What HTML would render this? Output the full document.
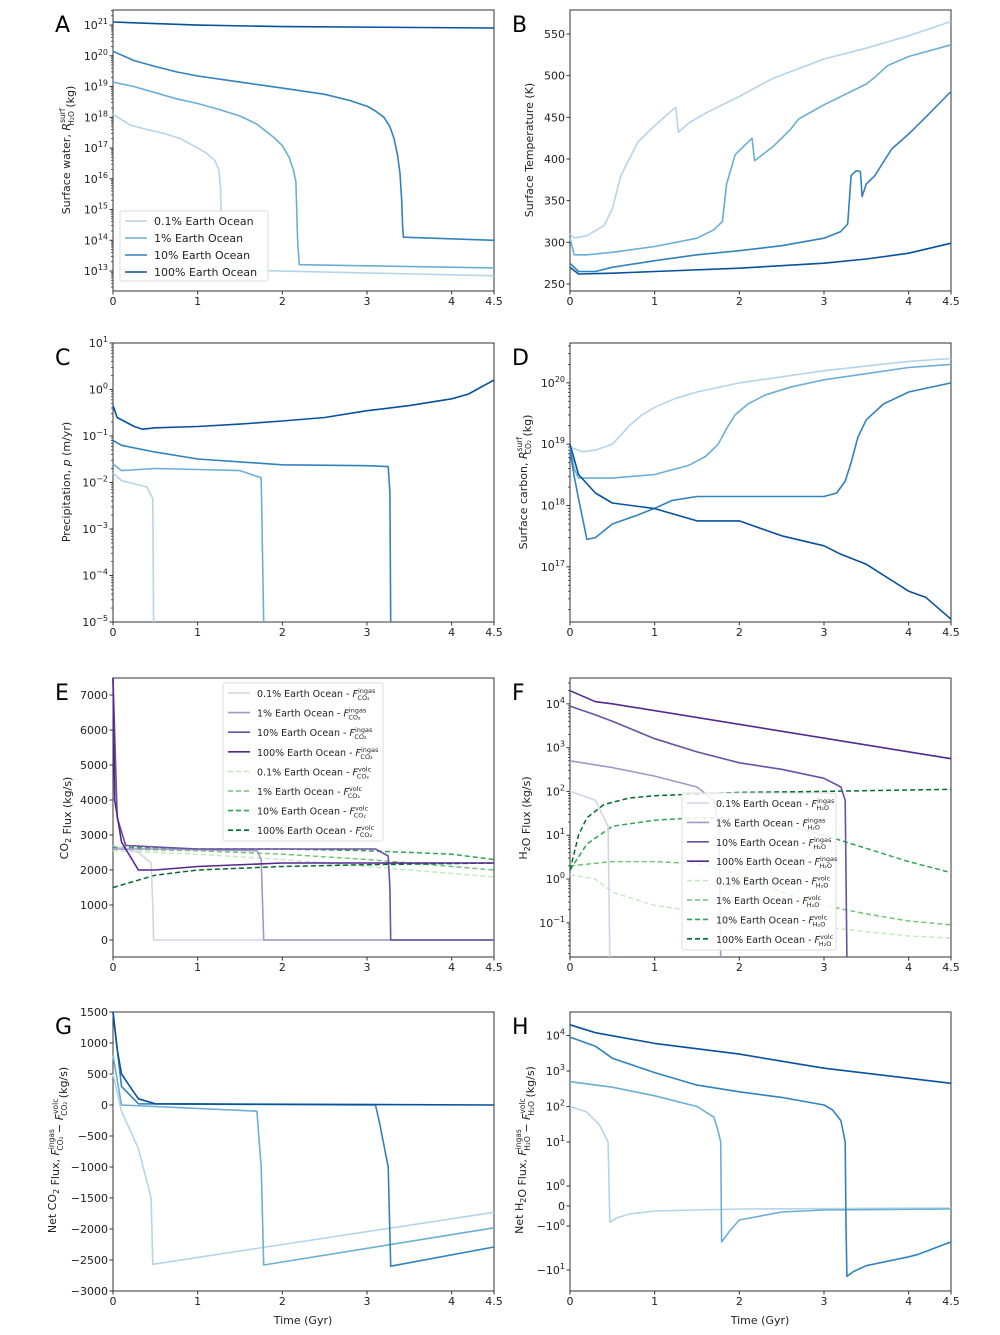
<!DOCTYPE html>
<html><head><meta charset="utf-8"><style>
body{margin:0;background:#fff}
svg{display:block;font-family:"DejaVu Sans","Liberation Sans",sans-serif}
</style></head><body>
<svg id="fig" width="1000" height="1335" viewBox="0 0 1000 1335" xmlns="http://www.w3.org/2000/svg"></svg>
<script>
// ---------- Data (time in Gyr) ----------
const xTicks = [0,1,2,3,4,4.5];
const oceanNames = ["0.1% Earth Ocean","1% Earth Ocean","10% Earth Ocean","100% Earth Ocean"];
// Panel A: surface water (kg)
const A_01 = [[0,1.26e18],[0.2,5.6e17],[0.4,4e17],[0.6,3e17],[0.8,2e17],[1.0,1e17],[1.1,7e16],[1.2,4e16],[1.25,2e16],[1.27,5e15],[1.28,5e14],[1.29,2e13],[1.3,1.1e13],[4.5,7e12]];
const A_1 = [[0,1.4e19],[0.25,1e19],[0.5,6.3e18],[0.75,4e18],[1,2.8e18],[1.25,1.8e18],[1.5,1.1e18],[1.7,6e17],[1.8,3.6e17],[1.9,2.2e17],[2.0,1.2e17],[2.08,5e16],[2.13,2e16],[2.16,8e15],[2.17,1e15],[2.18,1e14],[2.2,1.6e13],[4.5,1.26e13]];
const A_10 = [[0,1.4e20],[0.25,7e19],[0.5,4.5e19],[0.75,3e19],[1,2.2e19],[1.5,1.4e19],[2,8.9e18],[2.5,5.6e18],[2.8,3.5e18],[3.0,2.3e18],[3.1,1.6e18],[3.2,1e18],[3.27,5e17],[3.32,2e17],[3.36,6e16],[3.39,1.5e16],[3.41,2e15],[3.42,3e14],[3.43,1.26e14],[4.5,1e14]];
const A_100 = [[0,1.26e21],[0.5,1.12e21],[1,1e21],[2,8.9e20],[4.5,8e20]];
// Panel B: surface temperature (K)
const B_01 = [[0,310],[0.05,305],[0.2,308],[0.4,320],[0.5,340],[0.6,380],[0.8,420],[1.0,440],[1.2,458],[1.25,462],[1.28,432],[1.4,443],[1.6,455],[2,475],[2.4,497],[3,520],[3.5,533],[4,548],[4.5,565]];
const B_1 = [[0,305],[0.05,285],[0.2,285],[0.5,288],[1,295],[1.5,305],[1.7,315],[1.8,325],[1.85,370],[1.95,405],[2.1,420],[2.15,425],[2.18,398],[2.4,415],[2.6,435],[2.7,448],[3,465],[3.5,490],[3.6,498],[3.75,512],[4,523],[4.5,537]];
const B_10 = [[0,275],[0.1,265],[0.3,265],[0.5,270],[1,278],[1.5,285],[2,290],[2.5,296],[3,305],[3.2,313],[3.28,322],[3.32,380],[3.38,386],[3.43,385],[3.45,355],[3.5,370],[3.6,380],[3.8,412],[4,430],[4.2,450],[4.5,481]];
const B_100 = [[0,270],[0.1,262],[0.5,263],[1,265],[2,269],[3,275],[3.5,280],[4,287],[4.5,299]];
// Panel C: precipitation (m/yr)
const C_01 = [[0,0.016],[0.1,0.011],[0.4,0.008],[0.47,0.0045],[0.48,1e-5]];
const C_1 = [[0,0.025],[0.1,0.018],[0.5,0.02],[1,0.019],[1.5,0.018],[1.75,0.0126],[1.78,1e-5]];
const C_10 = [[0,0.08],[0.1,0.063],[0.5,0.045],[1,0.032],[2,0.024],[3,0.023],[3.25,0.022],[3.27,0.006],[3.28,1e-5]];
const C_100 = [[0,0.45],[0.05,0.25],[0.15,0.2],[0.25,0.16],[0.35,0.14],[0.5,0.15],[1,0.16],[1.5,0.18],[2,0.21],[2.5,0.25],[3,0.35],[3.5,0.45],[4,0.63],[4.2,0.8],[4.5,1.6]];
// Panel D: surface carbon (kg)
const D_01 = [[0,8.9e18],[0.15,7.5e18],[0.3,8e18],[0.5,1e19],[0.6,1.4e19],[0.7,2e19],[0.85,3e19],[1,4e19],[1.25,5.6e19],[1.5,7.1e19],[2,1e20],[3,1.58e20],[4,2.24e20],[4.5,2.5e20]];
const D_1 = [[0,8.9e18],[0.05,4e18],[0.1,2.8e18],[0.5,2.8e18],[1,3.2e18],[1.4,4.5e18],[1.6,6.3e18],[1.75,1e19],[1.85,1.8e19],[1.95,3e19],[2.1,4.5e19],[2.3,6.3e19],[2.6,8.5e19],[3,1.12e20],[4,1.78e20],[4.5,2e20]];
const D_10 = [[0,7.9e18],[0.05,3e18],[0.1,1.3e18],[0.2,2.8e17],[0.3,3e17],[0.5,5e17],[0.8,7e17],[1,9e17],[1.2,1.2e18],[1.5,1.4e18],[3,1.4e18],[3.15,1.6e18],[3.25,2.5e18],[3.32,5e18],[3.4,1.3e19],[3.5,2.5e19],[3.7,4.5e19],[4,7.1e19],[4.5,1e20]];
const D_100 = [[0,1e19],[0.1,3.2e18],[0.3,1.6e18],[0.5,1.1e18],[1,8.9e17],[1.5,5.6e17],[2,5.6e17],[2.5,3.2e17],[3,2.2e17],[3.2,1.6e17],[3.5,1.1e17],[4,4e16],[4.2,3.2e16],[4.5,1.4e16]];
// Panel E: CO2 flux (kg/s)
const E_in_01 = [[0,2700],[0.3,2500],[0.45,2200],[0.47,1000],[0.48,0],[4.5,0]];
const E_in_1 = [[0,2600],[0.5,2600],[1.7,2550],[1.75,2300],[1.78,0],[4.5,0]];
const E_in_10 = [[0,7500],[0.05,3500],[0.15,2700],[1,2600],[2,2600],[3.1,2600],[3.25,2400],[3.27,1500],[3.28,0],[4.5,0]];
const E_in_100 = [[0,7500],[0.02,4000],[0.1,2800],[0.3,2000],[0.5,2000],[1,2100],[2,2200],[4.5,2200]];
const E_vo_01 = [[0,2550],[1,2450],[2,2300],[3,2100],[4,1900],[4.5,1800]];
const E_vo_1 = [[0,2600],[1,2550],[2,2450],[3,2300],[4,2100],[4.5,2000]];
const E_vo_10 = [[0,2650],[1,2600],[2,2600],[3,2550],[4,2450],[4.5,2300]];
const E_vo_100 = [[0,1500],[0.5,1850],[1,2000],[2,2100],[3,2150],[4.5,2200]];
// Panel F: H2O flux (kg/s)
const F_in_01 = [[0,100],[0.3,63],[0.45,16],[0.47,0.016]];
const F_in_1 = [[0,500],[0.5,350],[1,224],[1.5,126],[1.7,63],[1.76,12.6],[1.78,0.016]];
const F_in_10 = [[0,8900],[0.3,5600],[0.5,4000],[1,1600],[1.5,800],[2,450],[2.5,320],[3,200],[3.2,126],[3.25,63],[3.27,0.016]];
const F_in_100 = [[0,20000],[0.3,11200],[0.5,10000],[4.5,560]];
const F_vo_01 = [[0,1.26],[0.3,1],[0.5,0.5],[1,0.25],[1.5,0.18],[2,0.126],[3,0.08],[4,0.05],[4.5,0.045]];
const F_vo_1 = [[0,2],[0.5,2.5],[1,2.5],[1.5,2.24],[2,1.26],[2.5,0.5],[3,0.25],[3.5,0.16],[4,0.11],[4.5,0.09]];
const F_vo_10 = [[0,1.6],[0.2,6.3],[0.5,16],[1,22],[1.5,25],[2,24],[2.5,18],[3,10],[3.5,5],[4,2.5],[4.5,1.4]];
const F_vo_100 = [[0,1.6],[0.1,10],[0.2,25],[0.4,50],[0.7,71],[1,80],[2,95],[3,100],[4.5,112]];
// Panel G: net CO2 flux (kg/s)
const G_01 = [[0,500],[0.1,-100],[0.3,-700],[0.45,-1500],[0.47,-2570],[4.5,-1730]];
const G_1 = [[0,800],[0.1,0],[1.7,-100],[1.75,-1000],[1.78,-2580],[4.5,-1980]];
const G_10 = [[0,1500],[0.1,300],[0.3,20],[3.1,0],[3.15,-300],[3.25,-1000],[3.28,-2600],[4.5,-2290]];
const G_100 = [[0,1500],[0.05,900],[0.1,500],[0.2,300],[0.3,100],[0.5,20],[4.5,0]];
// Panel H: net H2O flux (kg/s), symlog
const H_01 = [[0,100],[0.2,70],[0.35,30],[0.45,10],[0.47,-0.8],[0.55,-0.6],[0.7,-0.4],[1,-0.25],[2,-0.15],[4.5,-0.1]];
const H_1 = [[0,500],[0.5,350],[1,200],[1.5,100],[1.7,50],[1.75,20],[1.78,10],[1.79,-2.3],[1.9,-1.2],[2,-0.7],[2.5,-0.3],[3,-0.2],[4.5,-0.15]];
const H_10 = [[0,9000],[0.3,5000],[0.5,2300],[1,900],[1.5,400],[2,260],[2.5,180],[3,110],[3.1,80],[3.2,40],[3.25,10],[3.26,-1],[3.27,-15],[3.35,-11],[3.5,-8],[4,-5],[4.1,-4.5],[4.5,-2.3]];
const H_100 = [[0,20000],[0.3,12000],[1,6000],[2,3000],[3,1200],[4.5,450]];

const BLUES = ["#b5d4ea","#6baed6","#3182bd","#08519c"];
const PURPLES = ["#d4d3e8","#9e9ac8","#6a51a3","#54278f"];
const GREENS = ["#c7e9c0","#74c476","#31a354","#006d2c"];

const NS="http://www.w3.org/2000/svg";
const svg=document.getElementById('fig');
function el(tag,attrs,parent){const e=document.createElementNS(NS,tag);for(const k in attrs)e.setAttribute(k,attrs[k]);(parent||svg).appendChild(e);return e;}

function logScale(lo,hi,top,bot){return v=>bot-(Math.log10(Math.max(v,1e-300))-lo)/(hi-lo)*(bot-top);}
function linScale(lo,hi,top,bot){return v=>bot-(v-lo)/(hi-lo)*(bot-top);}
function symScale(zeroY){
  const f=a=>a<=1?a*20:(a<=10?20+44*Math.log10(a):64+35.5*Math.log10(a/10));
  return v=>zeroY-Math.sign(v)*f(Math.abs(v));}

function makePanel(id,box,ysc,yticks,minor){
  const g=el('g',{});  
  const [x0,y0,x1,y1]=box;
  const xs=t=>x0+t/4.5*(x1-x0);
  el('rect',{x:x0,y:y0,width:x1-x0,height:y1-y0,fill:'none',stroke:'#333','stroke-width':1},g);
  xTicks.forEach(t=>{const x=xs(t);
    el('line',{x1:x,x2:x,y1:y1,y2:y1+3.5,stroke:'#333'},g);
    const tx=el('text',{x:x,y:y1+14,'font-size':11,'text-anchor':'middle',fill:'#222'},g);tx.textContent=t;
    });
  (minor||[]).forEach(v=>{const y=ysc(v);if(y>y0&&y<y1)el('line',{x1:x0-2,x2:x0,y1:y,y2:y,stroke:'#333','stroke-width':0.8},g);});
  yticks.forEach(([v,lab,sup])=>{const y=ysc(v);
    el('line',{x1:x0-3.5,x2:x0,y1:y,y2:y,stroke:'#333'},g);
    const tx=el('text',{x:x0-5,y:y+4,'font-size':11,'text-anchor':'end',fill:'#222'},g);
    
    if(sup!==undefined){tx.appendChild(document.createTextNode(lab));const s=el('tspan',{dy:-5,'font-size':8},tx);s.textContent=sup;}
    else tx.textContent=lab;});
  const lt=el('text',{x:x0-58,y:y0+22,'font-size':22,fill:'#000'},g);lt.textContent=id;
  
  return {g,xs,ysc,box};
}
function drawLine(P,data,color,w,dash,name){
  const d=data.map((p,i)=>(i?'L':'M')+P.xs(p[0]).toFixed(1)+','+Math.min(Math.max(P.ysc(p[1]),P.box[1]),P.box[3]).toFixed(1)).join('');
  const a={d:d,fill:'none',stroke:color,'stroke-width':w,'stroke-linejoin':'round'};if(dash)a['stroke-dasharray']=dash;
  const p=el('path',a,P.g);
  
  
}
function ylabel(x,yc,parts,name){
  const t=el('text',{transform:`translate(${x},${yc}) rotate(-90)`,'font-size':11,'text-anchor':'middle',fill:'#222'});
  
  parts.forEach(p=>{
    if(typeof p==='string'){const s=el('tspan',{},t);s.textContent=p;}
    else if(p.sub&&p.sup){const a=el('tspan',{dy:-5,'font-size':7.5,'font-style':'normal'},t);a.textContent=p.sup;
      const b=el('tspan',{dx:-(p.sup.length*4.3),dy:9,'font-size':7.5},t);b.textContent=p.sub;
      const pad=Math.max(0,p.sub.length-p.sup.length)*4.3;const c=el('tspan',{dy:-4,dx:pad},t);c.textContent='';}
    else if(p.sub){const b=el('tspan',{dy:3,'font-size':8},t);b.textContent=p.sub;const c=el('tspan',{dy:-3},t);c.textContent='';}
    else if(p.it){const b=el('tspan',{'font-style':'italic'},t);b.textContent=p.it;}
  });
}
function logTicks(lo,hi){const r=[];for(let e=lo;e<=hi;e++)r.push([Math.pow(10,e),'10',String(e).replace('-','−')]);return r;}
function logMinor(lo,hi){const r=[];for(let e=lo;e<=hi;e++)for(let m=2;m<=9;m++)r.push(m*Math.pow(10,e));return r;}
function legend(x,y,w,h,items,fs,gap){
  const g=el('g',{});
  el('rect',{x:x,y:y,width:w,height:h,fill:'#fff','fill-opacity':0.85,stroke:'#ddd',rx:2},g);
  items.forEach((it,i)=>{const yy=y+10+i*gap;
    const a={x1:x+5,x2:x+27,y1:yy,y2:yy,stroke:it.c,'stroke-width':it.w||1.6};if(it.d)a['stroke-dasharray']=it.d;
    el('line',a,g);
    const t=el('text',{x:x+34,y:yy+4,'font-size':fs,fill:'#222'},g);
    
    t.appendChild(document.createTextNode(it.t));
    if(it.f){const f=el('tspan',{'font-style':'italic'},t);f.textContent=' F';
      const s=el('tspan',{dy:-4,'font-size':6.5},t);s.textContent=it.sup;
      const b=el('tspan',{dx:-(it.sup.length*3.6),dy:7,'font-size':6.5},t);b.textContent=it.f;}
  });
}

// ---------- Panel A ----------
let P=makePanel('A',[113,10,494,291],logScale(12.35,21.49,10,291),logTicks(13,21),logMinor(12,21));
[A_01,A_1,A_10,A_100].forEach((d,i)=>drawLine(P,d,BLUES[i],1.6,null,'line-a-'+i));
legend(120,211,148,70,oceanNames.map((n,i)=>({t:n,c:BLUES[i]})),11,17);
ylabel(70,150,['Surface water, ',{it:'R'},{sup:'surf',sub:'H\u2082O'},'  (kg)'],'y-axis-title-a');

// ---------- Panel B ----------
P=makePanel('B',[570,10,951,291],linScale(241.6,578.8,10,291),[250,300,350,400,450,500,550].map(v=>[v,String(v)]));
[B_01,B_1,B_10,B_100].forEach((d,i)=>drawLine(P,d,BLUES[i],1.6,null,'line-b-'+i));
ylabel(533,150,['Surface Temperature (K)'],'y-axis-title-b');

// ---------- Panel C ----------
P=makePanel('C',[113,343,494,622],logScale(-5,1,343,622),logTicks(-5,1),logMinor(-5,0));
[C_01,C_1,C_10,C_100].forEach((d,i)=>drawLine(P,d,BLUES[i],1.6,null,'line-c-'+i));
ylabel(70,482,['Precipitation, ',{it:'p'},' (m/yr)'],'y-axis-title-c');

// ---------- Panel D ----------
P=makePanel('D',[570,343,951,622],logScale(16.1,20.65,343,622),logTicks(17,20),logMinor(16,20));
[D_01,D_1,D_10,D_100].forEach((d,i)=>drawLine(P,d,BLUES[i],1.6,null,'line-d-'+i));
ylabel(527,482,['Surface carbon, ',{it:'R'},{sup:'surf',sub:'CO\u2082'},'  (kg)'],'y-axis-title-d');

// ---------- Panel E ----------
P=makePanel('E',[113,678,494,957],linScale(-486,7486,678,957),[0,1000,2000,3000,4000,5000,6000,7000].map(v=>[v,String(v)]));
[E_vo_01,E_vo_1,E_vo_10,E_vo_100].forEach((d,i)=>drawLine(P,d,GREENS[i],1.5,'5,3','line-e-volc-'+i));
[E_in_01,E_in_1,E_in_10,E_in_100].forEach((d,i)=>drawLine(P,d,PURPLES[i],1.6,null,'line-e-ingas-'+i));
legend(223,683,160,158,[...oceanNames.map((n,i)=>({t:n+' -',c:PURPLES[i],f:'CO\u2082',sup:'ingas'})),...oceanNames.map((n,i)=>({t:n+' -',c:GREENS[i],d:'5,3',f:'CO\u2082',sup:'volc'}))],9.5,19.6);
ylabel(68,818,['CO',{sub:'2'},' Flux (kg/s)'],'y-axis-title-e');

// ---------- Panel F ----------
P=makePanel('F',[570,678,951,957],logScale(-1.78,4.59,678,957),logTicks(-1,4),logMinor(-2,4));
[F_vo_01,F_vo_1,F_vo_10,F_vo_100].forEach((d,i)=>drawLine(P,d,GREENS[i],1.5,'5,3','line-f-volc-'+i));
[F_in_01,F_in_1,F_in_10,F_in_100].forEach((d,i)=>drawLine(P,d,PURPLES[i],1.6,null,'line-f-ingas-'+i));
legend(682,793,154,157,[...oceanNames.map((n,i)=>({t:n+' -',c:PURPLES[i],f:'H\u2082O',sup:'ingas'})),...oceanNames.map((n,i)=>({t:n+' -',c:GREENS[i],d:'5,3',f:'H\u2082O',sup:'volc'}))],9.5,19.4);
ylabel(527,818,['H',{sub:'2'},'O Flux (kg/s)'],'y-axis-title-f');

// ---------- Panel G ----------
P=makePanel('G',[113,1012,494,1291],linScale(-3000,1500,1012,1291),[-3000,-2500,-2000,-1500,-1000,-500,0,500,1000,1500].map(v=>[v,String(v).replace('-','−')]));
[G_01,G_1,G_10,G_100].forEach((d,i)=>drawLine(P,d,BLUES[i],1.6,null,'line-g-'+i));
ylabel(56,1150,['Net CO',{sub:'2'},' Flux, ',{it:'F'},{sup:'ingas',sub:'CO\u2082'},' − ',{it:'F'},{sup:'volc',sub:'CO\u2082'},'  (kg/s)'],'y-axis-title-g');

// ---------- Panel H ----------
const hs=symScale(1206);
P=makePanel('H',[570,1012,951,1291],hs,[[1e4,'10','4'],[1e3,'10','3'],[100,'10','2'],[10,'10','1'],[1,'10','0'],[0,'0'],[-1,'−10','0'],[-10,'−10','1']]);
[H_01,H_1,H_10,H_100].forEach((d,i)=>drawLine(P,d,BLUES[i],1.6,null,'line-h-'+i));
ylabel(523,1150,['Net H',{sub:'2'},'O Flux, ',{it:'F'},{sup:'ingas',sub:'H\u2082O'},' − ',{it:'F'},{sup:'volc',sub:'H\u2082O'},'  (kg/s)'],'y-axis-title-h');

[[303,'x-axis-title-g'],[760,'x-axis-title-h']].forEach(([x,n])=>{
  const t=el('text',{x:x,y:1324,'font-size':11,'text-anchor':'middle',fill:'#222'});t.textContent='Time (Gyr)';
  });
</script>
</body></html>
